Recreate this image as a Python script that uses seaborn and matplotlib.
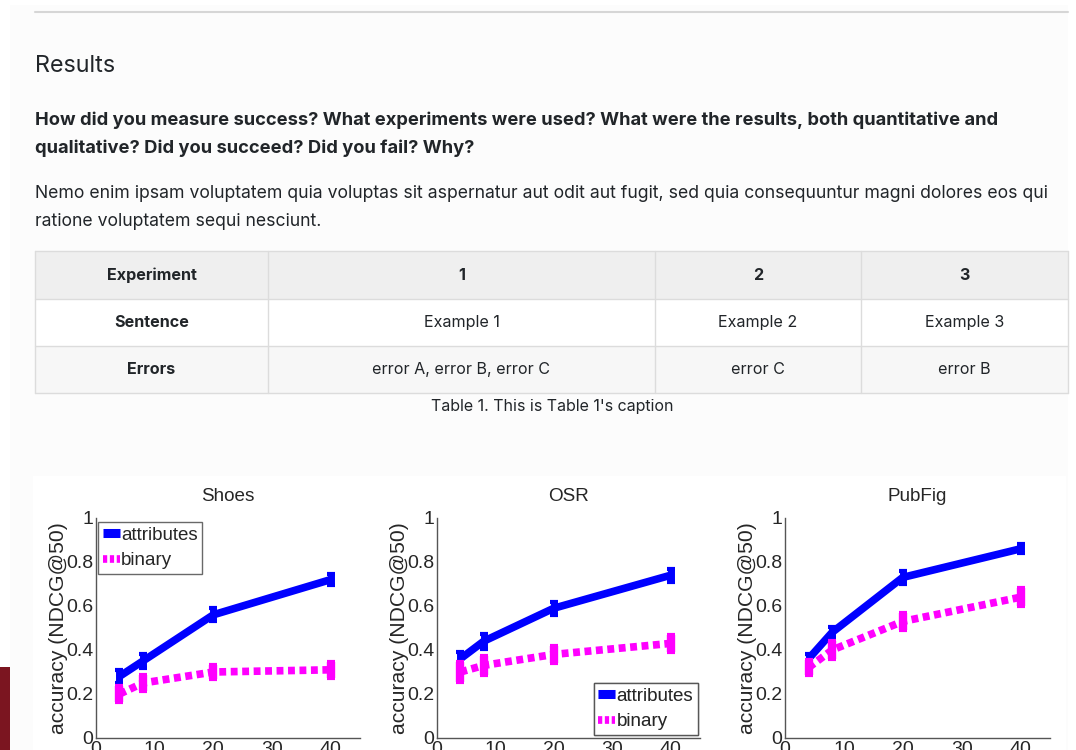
import numpy as np
import pandas as pd
import matplotlib
matplotlib.use("Agg")
import matplotlib.pyplot as plt
from matplotlib.patches import Rectangle
from matplotlib.lines import Line2D
import seaborn as sns

# Data
x_labels = [4, 8, 20, 40]
panel_titles = ["Shoes", "OSR", "PubFig"]

shoes_attr = [0.28, 0.35, 0.56, 0.72]
shoes_attr_err = [0.03, 0.03, 0.03, 0.025]
shoes_bin = [0.20, 0.25, 0.30, 0.31]
shoes_bin_err = [0.035, 0.035, 0.03, 0.035]

osr_attr = [0.36, 0.44, 0.59, 0.74]
osr_attr_err = [0.03, 0.035, 0.03, 0.03]
osr_bin = [0.30, 0.33, 0.38, 0.43]
osr_bin_err = [0.045, 0.045, 0.04, 0.04]

pubfig_attr = [0.36, 0.48, 0.73, 0.86]
pubfig_attr_err = [0.02, 0.025, 0.03, 0.02]
pubfig_bin = [0.32, 0.40, 0.53, 0.64]
pubfig_bin_err = [0.035, 0.04, 0.04, 0.04]

table_header = ["Experiment", "1", "2", "3"]
table_rows = [["Sentence", "Example 1", "Example 2", "Example 3"],
              ["Errors", "error A, error B, error C", "error C", "error B"]]

sns.set_style("white")
plt.rcParams['font.family'] = ['Inter', 'DejaVu Sans']

W, H = 1076, 750
fig = plt.figure(figsize=(W / 100, H / 100), dpi=100)
fig.patch.set_facecolor("white")


def fx(x):
    return x / W


def fy(y):
    return 1 - y / H


def rect(x0, y0, x1, y1, fc, ec="none", lw=0, z=-5):
    fig.patches.append(Rectangle((fx(x0), fy(y1)), fx(x1) - fx(x0), fy(y0) - fy(y1),
                                 transform=fig.transFigure, facecolor=fc, edgecolor=ec,
                                 linewidth=lw, zorder=z))


def hline(x0, x1, y, color, lw=1.0):
    fig.lines.append(Line2D([fx(x0), fx(x1)], [fy(y), fy(y)], transform=fig.transFigure,
                            color=color, linewidth=lw, zorder=-4))


def vline(x, y0, y1, color, lw=1.0):
    fig.lines.append(Line2D([fx(x), fx(x)], [fy(y0), fy(y1)], transform=fig.transFigure,
                            color=color, linewidth=lw, zorder=-4))


# page panel
rect(10, 5, 1068, 750, "#fcfcfc")
hline(35, 1068, 11.5, "#d6d6d6", 1.5)

# headings / text
txt_color = "#212529"
fig.text(fx(35), fy(66), "Results", fontsize=16.8, color=txt_color, va="center")
fig.text(fx(35), fy(120), "How did you measure success? What experiments were used? What were the results, both quantitative and",
         fontsize=13.2, fontweight="bold", color=txt_color, va="center")
fig.text(fx(35), fy(148), "qualitative? Did you succeed? Did you fail? Why?",
         fontsize=13.2, fontweight="bold", color=txt_color, va="center")
fig.text(fx(35), fy(193), "Nemo enim ipsam voluptatem quia voluptas sit aspernatur aut odit aut fugit, sed quia consequuntur magni dolores eos qui",
         fontsize=12.7, color=txt_color, va="center")
fig.text(fx(35), fy(221), "ratione voluptatem sequi nesciunt.",
         fontsize=12.7, color=txt_color, va="center")

# table
col_edges = [35, 268, 655, 861, 1068]
row_edges = [251, 299, 346, 393]
row_colors = ["#efefef", "#ffffff", "#f7f7f7"]
border = "#dcdcdc"
for r in range(3):
    rect(35, row_edges[r], 1068, row_edges[r + 1], row_colors[r])
for y in row_edges:
    hline(35, 1068, y, border, 1.0)
for x in col_edges:
    vline(x, 251, 393, border, 1.0)
all_rows = [table_header] + table_rows
for r, row in enumerate(all_rows):
    yc = (row_edges[r] + row_edges[r + 1]) / 2
    for c, cell in enumerate(row):
        xc = (col_edges[c] + col_edges[c + 1]) / 2
        bold = (r == 0) or (c == 0)
        fig.text(fx(xc), fy(yc), cell, fontsize=11.6, color=txt_color, ha="center", va="center",
                 fontweight="bold" if bold else "normal")
fig.text(fx(552), fy(407), "Table 1. This is Table 1's caption", fontsize=11.5, color=txt_color,
         ha="center", va="center")

# chart image area
rect(33, 476, 1066, 750, "white")
# dark red block at left edge
rect(0, 667, 10, 750, "#7b1520", z=5)

panels = [
    (96, 360, shoes_attr, shoes_attr_err, shoes_bin, shoes_bin_err, "upper left"),
    (437, 700, osr_attr, osr_attr_err, osr_bin, osr_bin_err, "lower right"),
    (785, 1050, pubfig_attr, pubfig_attr_err, pubfig_bin, pubfig_bin_err, "lower right"),
]
chart_font = ['Liberation Sans', 'DejaVu Sans']
dots = (0, (0.9, 0.6))

for i, (x0, x1, attr, attr_err, binv, bin_err, leg_loc) in enumerate(panels):
    ax = fig.add_axes([fx(x0), fy(738), fx(x1) - fx(x0), (738 - 518) / H])
    ax.set_zorder(2)
    ax.set_facecolor("white")
    df = pd.DataFrame({"x": x_labels * 2, "y": attr + binv,
                       "method": ["attributes"] * 4 + ["binary"] * 4})
    sns.lineplot(data=df[df.method == "attributes"], x="x", y="y", ax=ax, color="#0000ff",
                 linewidth=5.5, label="attributes", solid_capstyle="butt")
    sns.lineplot(data=df[df.method == "binary"], x="x", y="y", ax=ax, color="#ff00ff",
                 linewidth=5.5, linestyle=dots, label="binary", dash_capstyle="butt")
    ax.errorbar(x_labels, attr, yerr=attr_err, fmt="none", ecolor="#0000ff", elinewidth=5,
                capsize=3, capthick=3)
    ax.errorbar(x_labels, binv, yerr=bin_err, fmt="none", ecolor="#ff00ff", elinewidth=6,
                capsize=3, capthick=3)
    ax.set_xlim(0, 45)
    ax.set_ylim(0, 1)
    ax.set_xticks([0, 10, 20, 30, 40])
    ax.set_yticks([0, 0.2, 0.4, 0.6, 0.8, 1.0])
    ax.set_yticklabels(["0", "0.2", "0.4", "0.6", "0.8", "1"], family=chart_font)
    ax.set_xticklabels(["0", "10", "20", "30", "40"], family=chart_font)
    ax.tick_params(direction="in", labelsize=14, length=4, color="#555555", pad=2)
    for s in ["top", "right"]:
        ax.spines[s].set_visible(False)
    for s in ["left", "bottom"]:
        ax.spines[s].set_color("#555555")
        ax.spines[s].set_linewidth(1.0)
    ax.set_xlabel("")
    ax.set_ylabel("accuracy (NDCG@50)", fontsize=15.2, family=chart_font)
    ax.yaxis.set_label_coords(-28 / (x1 - x0), 0.5)
    ax.set_title(panel_titles[i], fontsize=13.6, family=chart_font, pad=12)
    if leg_loc == "upper left":
        anchor = ((98 - x0) / (x1 - x0), (738 - 522) / 220)
        loc = "upper left"
    else:
        anchor = ((698 - x0) / (x1 - x0), (738 - 683) / 220)
        loc = "upper right"
    leg = ax.legend(loc=loc, bbox_to_anchor=anchor, frameon=True, fancybox=False,
                    handlelength=0.9, handletextpad=0.08, borderpad=0.25, labelspacing=0.45,
                    borderaxespad=0, prop={"family": chart_font, "size": 13.5})
    leg.get_frame().set_edgecolor("#444444")
    leg.get_frame().set_linewidth(1.0)
    handles = leg.get_lines()
    handles[0].set_linewidth(6.5)
    handles[1].set_linewidth(5.5)
    handles[1].set_linestyle((0, (0.55, 0.35)))

fig.savefig("out.png", dpi=100, facecolor=fig.get_facecolor())
